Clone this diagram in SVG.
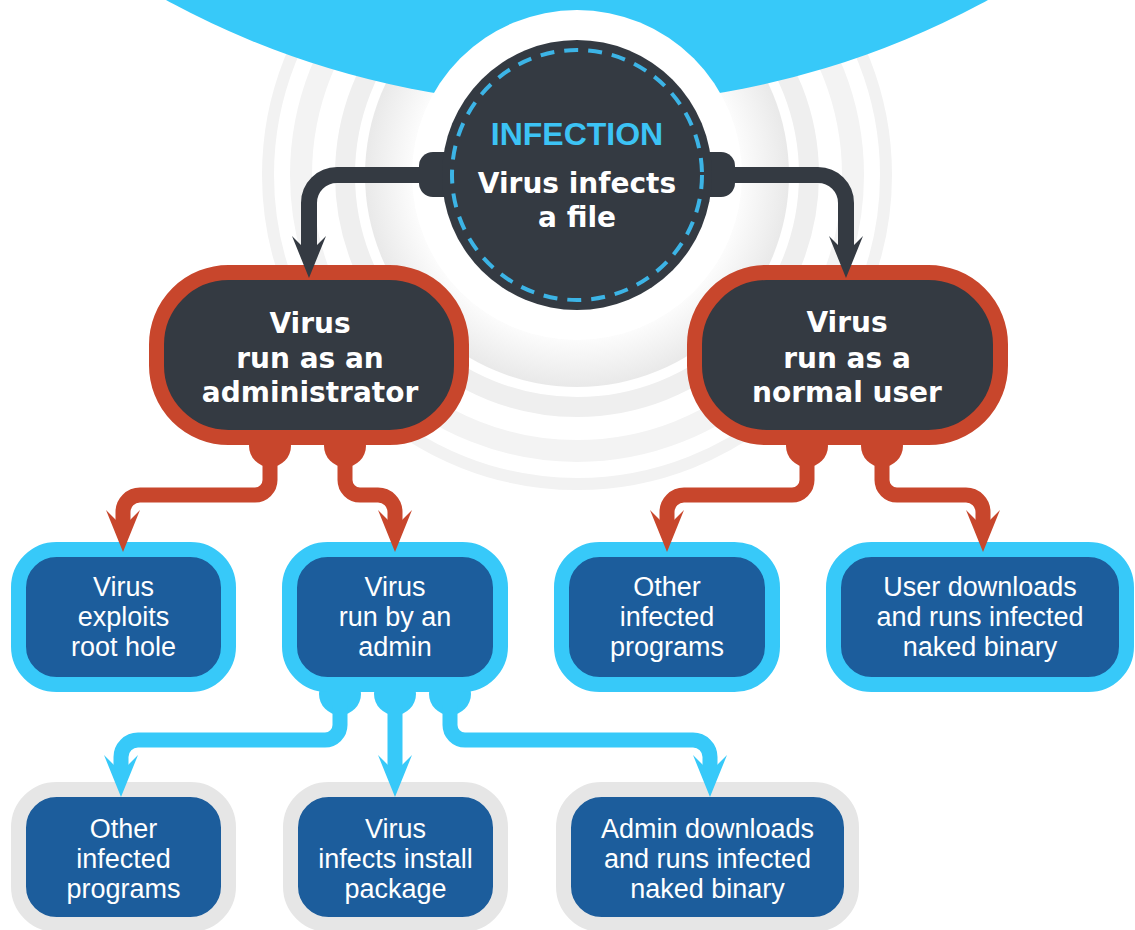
<svg xmlns="http://www.w3.org/2000/svg" width="1135" height="930" viewBox="0 0 1135 930">
<style>
.ring{fill:none}
.dark{fill:#343a42}
.red{fill:#c8462c}
.cyan{fill:#37c9f9}
.gray{fill:#e6e6e6}
.rnode{fill:#343a42;stroke:#c8462c;stroke-width:15}
.bnode{fill:#1c5d9c;stroke:#37c9f9;stroke-width:15}
.gnode{fill:#1c5d9c;stroke:#e6e6e6;stroke-width:15}
.tb{font-family:"DejaVu Sans",sans-serif;font-weight:bold;font-size:28px;fill:#ffffff;text-anchor:middle}
.tr{font-family:"Liberation Sans",Arial,sans-serif;font-size:27px;fill:#ffffff;text-anchor:middle}
.ti{font-family:"Liberation Sans",Arial,sans-serif;font-weight:bold;font-size:32px;fill:#3cc3f5;text-anchor:middle}
.c-dark{fill:none;stroke:#343a42;stroke-width:16}
.c-red{fill:none;stroke:#c8462c;stroke-width:15}
.c-blue{fill:none;stroke:#37c9f9;stroke-width:15}
</style>
<defs>
<radialGradient id="halo" cx="577" cy="175" r="212" gradientUnits="userSpaceOnUse">
<stop offset="0.74" stop-color="#ffffff"/>
<stop offset="1" stop-color="#e9e9e9"/>
</radialGradient>
<marker id="ah-dark" viewBox="-12 -20 48 40" markerWidth="48" markerHeight="40" refX="0" refY="0" orient="auto" markerUnits="userSpaceOnUse">
<path d="M32,0 L-10,-17 L0,-7 L0,7 L-10,17 Z" fill="#343a42"/>
</marker>
<marker id="ah-red" viewBox="-12 -20 48 40" markerWidth="48" markerHeight="40" refX="0" refY="0" orient="auto" markerUnits="userSpaceOnUse">
<path d="M32,0 L-10,-17 L0,-7 L0,7 L-10,17 Z" fill="#c8462c"/>
</marker>
<marker id="ah-blue" viewBox="-12 -20 48 40" markerWidth="48" markerHeight="40" refX="0" refY="0" orient="auto" markerUnits="userSpaceOnUse">
<path d="M32,0 L-10,-17 L0,-7 L0,7 L-10,17 Z" fill="#37c9f9"/>
</marker>
</defs>

<g id="background">
<rect x="0" y="0" width="1135" height="930" fill="#ffffff"/>
<circle class="ring" cx="577" cy="175" r="309" stroke="#f2f2f2" stroke-width="12"/>
<circle class="ring" cx="577" cy="175" r="276" stroke="#f3f3f3" stroke-width="22"/>
<circle class="ring" cx="577" cy="175" r="232" stroke="#efefef" stroke-width="20"/>
<circle cx="577" cy="175" r="212" fill="url(#halo)"/>
<circle class="cyan" cx="577" cy="-752" r="857"/>
<circle cx="577" cy="175" r="165" fill="#ffffff"/>
</g>

<g id="node-infection">
<rect class="dark" x="419" y="152" width="40" height="45" rx="14"/>
<rect class="dark" x="695" y="152" width="40" height="45" rx="14"/>
<circle class="dark" cx="577" cy="175" r="135"/>
<circle cx="577" cy="175" r="125" fill="none" stroke="#3cb4e6" stroke-width="4" stroke-dasharray="14 10"/>
<text class="ti" x="577" y="145">INFECTION</text>
<text class="tb" x="577" y="193">Virus infects</text>
<text class="tb" x="577" y="227">a file</text>
</g>

<g id="node-admin">
<circle class="red" cx="270" cy="446" r="21"/>
<circle class="red" cx="345" cy="446" r="21"/>
<rect class="rnode" x="156.5" y="272.5" width="305" height="165" rx="72"/>
<text class="tb" x="310" y="333">Virus</text>
<text class="tb" x="310" y="368">run as an</text>
<text class="tb" x="310" y="402">administrator</text>
</g>

<g id="node-user">
<circle class="red" cx="807" cy="446" r="21"/>
<circle class="red" cx="882" cy="446" r="21"/>
<rect class="rnode" x="694.5" y="272.5" width="306" height="165" rx="72"/>
<text class="tb" x="847" y="332">Virus</text>
<text class="tb" x="847" y="368">run as a</text>
<text class="tb" x="847" y="402">normal user</text>
</g>

<g id="node-root-hole">
<rect class="bnode" x="18.5" y="549.5" width="210" height="135" rx="38"/>
<text class="tr" x="123.5" y="596">Virus</text>
<text class="tr" x="123.5" y="626">exploits</text>
<text class="tr" x="123.5" y="656">root hole</text>
</g>

<g id="node-run-by-admin">
<circle class="cyan" cx="340" cy="694" r="21"/>
<circle class="cyan" cx="395" cy="694" r="21"/>
<circle class="cyan" cx="450" cy="694" r="21"/>
<rect class="bnode" x="289.5" y="549.5" width="211" height="135" rx="38"/>
<text class="tr" x="395" y="596">Virus</text>
<text class="tr" x="395" y="626">run by an</text>
<text class="tr" x="395" y="656">admin</text>
</g>

<g id="node-user-other">
<rect class="bnode" x="561.5" y="549.5" width="211" height="135" rx="38"/>
<text class="tr" x="667" y="596">Other</text>
<text class="tr" x="667" y="626">infected</text>
<text class="tr" x="667" y="656">programs</text>
</g>

<g id="node-user-downloads">
<rect class="bnode" x="833.5" y="549.5" width="293" height="135" rx="38"/>
<text class="tr" x="980" y="596">User downloads</text>
<text class="tr" x="980" y="626">and runs infected</text>
<text class="tr" x="980" y="656">naked binary</text>
</g>

<g id="node-admin-other">
<rect class="gnode" x="18.5" y="789.5" width="210" height="135" rx="38"/>
<text class="tr" x="123.5" y="838">Other</text>
<text class="tr" x="123.5" y="868">infected</text>
<text class="tr" x="123.5" y="898">programs</text>
</g>

<g id="node-install-package">
<rect class="gnode" x="290.5" y="789.5" width="210" height="135" rx="38"/>
<text class="tr" x="395.5" y="838">Virus</text>
<text class="tr" x="395.5" y="868">infects install</text>
<text class="tr" x="395.5" y="898">package</text>
</g>

<g id="node-admin-downloads">
<rect class="gnode" x="563.5" y="789.5" width="288" height="135" rx="38"/>
<text class="tr" x="707.5" y="838">Admin downloads</text>
<text class="tr" x="707.5" y="868">and runs infected</text>
<text class="tr" x="707.5" y="898">naked binary</text>
</g>

<g id="connectors">
<path class="c-dark" d="M425,175 H337 A28,28 0 0 0 309,203 V246" marker-end="url(#ah-dark)"/>
<path class="c-dark" d="M729,175 H818 A28,28 0 0 1 846,203 V246" marker-end="url(#ah-dark)"/>
<path class="c-red" d="M270,455 V480 A15,15 0 0 1 255,495 H140 A17,17 0 0 0 123,512 V520" marker-end="url(#ah-red)"/>
<path class="c-red" d="M345,455 V480 A15,15 0 0 0 360,495 H378 A17,17 0 0 1 395,512 V520" marker-end="url(#ah-red)"/>
<path class="c-red" d="M807,455 V480 A15,15 0 0 1 792,495 H684 A17,17 0 0 0 667,512 V520" marker-end="url(#ah-red)"/>
<path class="c-red" d="M882,455 V480 A15,15 0 0 0 897,495 H966 A17,17 0 0 1 983,512 V520" marker-end="url(#ah-red)"/>
<path class="c-blue" d="M340,705 V725 A15,15 0 0 1 325,740 H138 A17,17 0 0 0 121,757 V765" marker-end="url(#ah-blue)"/>
<path class="c-blue" d="M395,705 V765" marker-end="url(#ah-blue)"/>
<path class="c-blue" d="M450,705 V725 A15,15 0 0 0 465,740 H693 A17,17 0 0 1 710,757 V765" marker-end="url(#ah-blue)"/>
</g>
</svg>
